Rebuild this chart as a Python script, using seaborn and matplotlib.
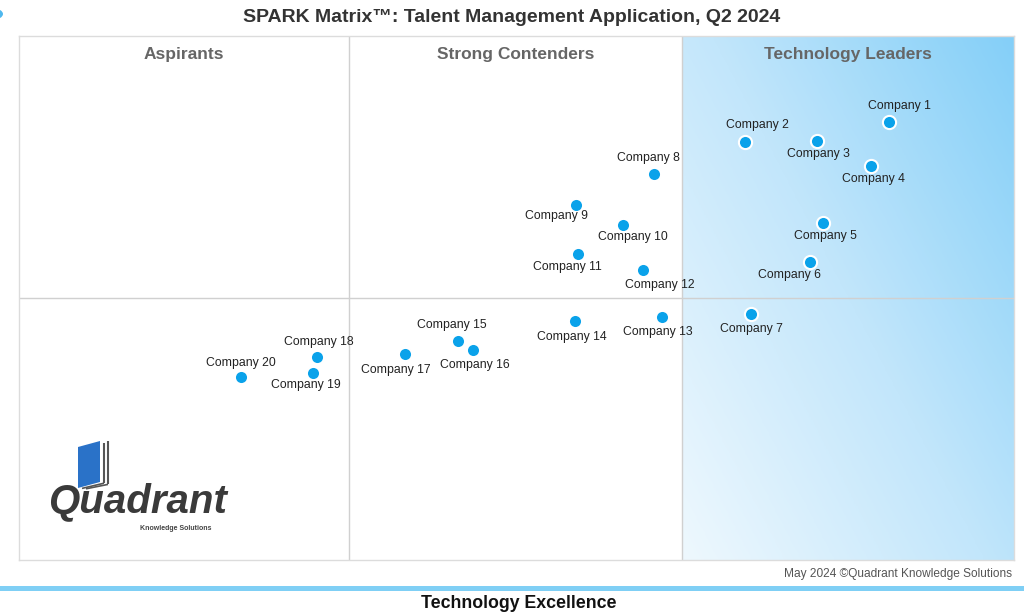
import numpy as np
import pandas as pd
import matplotlib
matplotlib.use("Agg")
import matplotlib.pyplot as plt
from matplotlib.patches import Polygon, Rectangle, Circle
from matplotlib.colors import LinearSegmentedColormap
import seaborn as sns

companies = [f"Company {i}" for i in range(1, 21)]
tech_excellence = [87.4, 73.0, 80.2, 85.6, 80.8, 79.5, 73.6, 63.8, 56.0, 60.7,
                   56.2, 62.7, 64.6, 55.9, 44.1, 45.6, 38.8, 29.9, 29.5, 22.3]
customer_impact = [83.6, 79.8, 80.0, 75.2, 64.3, 56.9, 46.9, 73.7, 67.7, 63.9,
                   58.4, 55.3, 46.4, 45.6, 41.8, 40.1, 39.3, 38.7, 35.7, 34.9]
quadrant_names = ["Aspirants", "Strong Contenders", "Technology Leaders"]
x_splits = [33.2, 66.6]
y_split = 50.0

df = pd.DataFrame({"company": companies, "x": tech_excellence, "y": customer_impact})

sns.set_theme(style="white")
plt.rcParams["font.family"] = ["Liberation Sans", "DejaVu Sans"]

fig = plt.figure(figsize=(10.24, 6.15), dpi=100)
ax = fig.add_axes([19/1024, 55/615, 995/1024, 524/615])
ax.set_xlim(0, 100)
ax.set_ylim(0, 100)

# gradient in leaders region
n = 200
gx, gy = np.meshgrid(np.linspace(0, 1, n), np.linspace(0, 1, n))
grad = (gx * 0.55 + gy * 0.45)
cmap = LinearSegmentedColormap.from_list("lead", ["#eef8fe", "#c2e6fb", "#84cff8"])
ax.imshow(grad, extent=[x_splits[1], 100, 0, 100], origin="lower", cmap=cmap,
          aspect="auto", zorder=0, interpolation="bilinear")

for xs in x_splits:
    ax.axvline(xs, color="#d0d0d0", lw=1, zorder=1)
ax.axhline(y_split, color="#d0d0d0", lw=1, zorder=1)

for s in ax.spines.values():
    s.set_color("#dcdcdc")
    s.set_linewidth(1)
ax.set_xticks([])
ax.set_yticks([])

sns.scatterplot(data=df, x="x", y="y", ax=ax, s=90, color="#0aa2ea",
                edgecolor="white", linewidth=1.5, zorder=3, legend=False)
ax.set_xlabel("")
ax.set_ylabel("")

offsets = {1: (11, 16), 2: (12, 17), 3: (1, -13), 4: (3, -13), 5: (2, -13),
           6: (-21, -13), 7: (0, -15), 8: (-5, 16), 9: (-20, -11), 10: (10, -12),
           11: (-11, -13), 12: (17, -15), 13: (-4, -15), 14: (-3, -16), 15: (-6, 16),
           16: (2, -15), 17: (-9, -16), 18: (2, 15), 19: (-7, -12), 20: (0, 14)}
for i, row in df.iterrows():
    dx, dy = offsets[i + 1]
    ax.annotate(row["company"], (row["x"], row["y"]), xytext=(dx, dy),
                textcoords="offset pixels", ha="center", va="center",
                fontsize=8.8, color="#222222", zorder=4)

qx = [(0 + x_splits[0]) / 2, (x_splits[0] + x_splits[1]) / 2, (x_splits[1] + 100) / 2]
for name, cx in zip(quadrant_names, qx):
    ax.text(cx, 96.5, name, ha="center", va="center", fontsize=12.5,
            fontweight="bold", color="#666666", zorder=4)

# title
fig.text(0.5, 1 - 17/615, "SPARK Matrix\u2122: Talent Management Application, Q2 2024",
         ha="center", va="center", fontsize=14, fontweight="bold", color="#333333")

# top-left decoration
fig.add_artist(Circle((-6/1024, 1 - 14/615), 9/1024, transform=fig.transFigure,
                      facecolor="#4fb8ee", edgecolor="none"))

# footer
fig.text(1012/1024, 1 - 574/615, "May 2024 \u00a9Quadrant Knowledge Solutions",
         ha="right", va="center", fontsize=8.6, color="#555555")
fig.add_artist(Rectangle((0, 1 - 591/615), 1, 5/615, transform=fig.transFigure,
                         facecolor="#7fcff5", edgecolor="none"))
fig.text(519/1024, 1 - 603/615, "Technology Excellence", ha="center", va="center",
         fontsize=12.8, fontweight="bold", color="#111111")

# logo
book = Polygon([(78/1024, 1 - 488/615), (78/1024, 1 - 447/615), (100/1024, 1 - 441/615),
                (100/1024, 1 - 482/615)], closed=True, transform=fig.transFigure,
               facecolor="#2a72c8", edgecolor="none", zorder=5)
fig.add_artist(book)
for k, off in enumerate([4, 8]):
    x0 = (100 + off) / 1024
    fig.add_artist(Polygon([(x0, 1 - (482 + off * 0.3) / 615), (x0, 1 - (445 - off * 0.5) / 615)],
                           closed=False, transform=fig.transFigure, edgecolor="#555555",
                           facecolor="none", lw=1.5, zorder=5))
    fig.add_artist(Polygon([(78 / 1024 + off / 1024, 1 - (488 + off * 0.1) / 615), (x0, 1 - (482 + off * 0.3) / 615)],
                           closed=False, transform=fig.transFigure, edgecolor="#555555",
                           facecolor="none", lw=1.2, zorder=5))
fig.text(137/1024, 1 - 502/615, "Quadrant", ha="center", va="center", fontsize=29,
         fontweight="bold", style="italic", color="#3a3a3a", zorder=6)
fig.text(176/1024, 1 - 529/615, "Knowledge Solutions", ha="center", va="center",
         fontsize=5, fontweight="bold", color="#444444", zorder=6)

fig.savefig("out.png", dpi=100)
